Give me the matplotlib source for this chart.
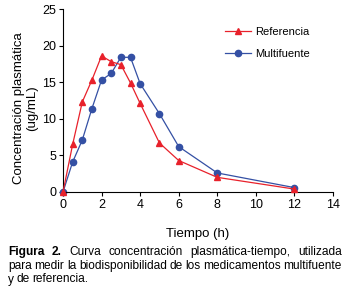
import numpy as np
import matplotlib
matplotlib.use("Agg")
import matplotlib.pyplot as plt

plt.rcParams['font.family'] = ['Liberation Sans', 'DejaVu Sans']

# Datos
tiempo = [0, 0.5, 1, 1.5, 2, 2.5, 3, 3.5, 4, 5, 6, 8, 12]
referencia = [0, 6.5, 12.3, 15.3, 18.6, 17.8, 17.4, 14.9, 12.1, 6.7, 4.3, 2.0, 0.4]
multifuente = [0, 4.1, 7.1, 11.4, 15.3, 16.2, 18.4, 18.4, 14.8, 10.7, 6.2, 2.6, 0.6]
xticks = [0, 2, 4, 6, 8, 10, 12, 14]
yticks = [0, 5, 10, 15, 20, 25]

rojo = '#e8212b'
azul = '#3450a4'

W, H = 350, 302
fig = plt.figure(figsize=(W / 100, H / 100), dpi=100)
ax = fig.add_axes([63 / W, 1 - 192 / H, 270 / W, 183 / H])

ax.plot(tiempo, referencia, '-^', color=rojo, lw=0.9, ms=4.5, label='Referencia', zorder=3)
ax.plot(tiempo, multifuente, '-o', color=azul, lw=0.9, ms=4.5, label='Multifuente', zorder=2)

ax.set_xlim(0, 14)
ax.set_ylim(0, 25)
ax.set_xticks(xticks)
ax.set_yticks(yticks)
ax.spines['top'].set_visible(False)
ax.spines['right'].set_visible(False)
for s in ['left', 'bottom']:
    ax.spines[s].set_linewidth(0.8)
ax.tick_params(labelsize=9, length=3, width=0.8, pad=2)
for l in ax.lines:
    l.set_clip_on(False)

ax.set_xlabel('Tiempo (h)', fontsize=9.5, labelpad=12)
ax.set_ylabel('Concentración plasmática\n(ug/mL)', fontsize=9.5, linespacing=1.1)
ax.yaxis.set_label_coords(-0.092, 0.46)

ax.legend(loc='upper left', bbox_to_anchor=(152 / 270, 1 - 8 / 183), frameon=False,
          fontsize=8, handlelength=2.35, handletextpad=0.36, labelspacing=1.1)

# Pie de figura justificado
renglones = [
    [('Figura', True), ('2.', True), ('Curva', False), ('concentración', False),
     ('plasmática-tiempo,', False), ('utilizada', False)],
    [('para', False), ('medir', False), ('la', False), ('biodisponibilidad', False), ('de', False),
     ('los', False), ('medicamentos', False), ('multifuente', False)],
    [('y', False), ('de', False), ('referencia.', False)],
]
x0, x1 = 8, 342
ys = [252, 266, 279.5]
renderer = fig.canvas.get_renderer()
for i, palabras in enumerate(renglones):
    textos = []
    for p, negrita in palabras:
        t = fig.text(0, 1 - ys[i] / H, p, fontsize=8.6, va='center',
                     fontweight='bold' if negrita else 'normal')
        textos.append(t)
    anchos = [t.get_window_extent(renderer).width for t in textos]
    if i < len(renglones) - 1:
        hueco = (x1 - x0 - sum(anchos)) / (len(textos) - 1)
    else:
        hueco = 2.4
    x = x0
    for t, a in zip(textos, anchos):
        t.set_x(x / W)
        x += a + hueco

fig.savefig('out.png', dpi=100)
